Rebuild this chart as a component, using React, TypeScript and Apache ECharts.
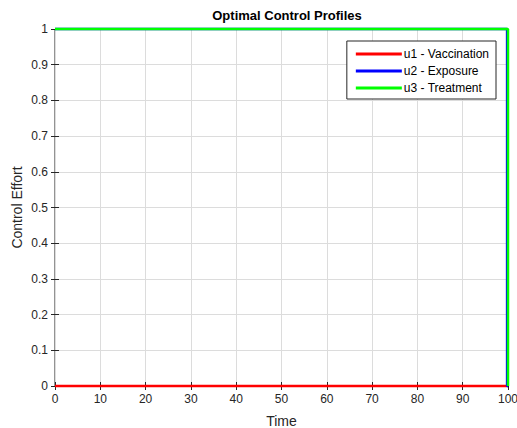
import React, { useEffect, useRef } from "react";
import * as echarts from "echarts";

const timeU1 = [0, 100];
const valuesU1 = [0, 0];
const timeU2 = [0, 99.8, 99.8, 100];
const valuesU2 = [1, 1, 0, 0];
const timeU3 = [0, 100, 100];
const valuesU3 = [1, 1, 0];
const seriesNames = ["u1 - Vaccination", "u2 - Exposure", "u3 - Treatment"];
const seriesColors = ["#ff0000", "#0000ff", "#00ff00"];

const zip = (t: number[], v: number[]) => t.map((x, i) => [x, v[i]]);

export default function App() {
  const ref = useRef<HTMLDivElement>(null);
  useEffect(() => {
    if (!ref.current) return;
    const chart = echarts.init(ref.current, undefined, { renderer: "svg" });
    const font = "Arial, 'Liberation Sans', sans-serif";
    const axisCommon = {
      axisLine: { show: false },
      splitLine: { show: false },
    };
    chart.setOption({
      animation: false,
      backgroundColor: "#ffffff",
      title: {
        text: "Optimal Control Profiles",
        left: 282,
        textAlign: "center",
        top: 4,
        textStyle: { fontSize: 13, fontWeight: "bold", color: "#000", fontFamily: font },
      },
      grid: {
        left: 55,
        right: 9,
        top: 29,
        bottom: 42,
        containLabel: false,
        outerBoundsMode: "none",
        show: true,
        borderColor: "#262626",
        borderWidth: 1,
        backgroundColor: "#fff",
      },
      legend: {
        orient: "vertical",
        right: 21,
        top: 41,
        backgroundColor: "#fff",
        borderColor: "#262626",
        borderWidth: 1,
        padding: [7, 7, 5, 9],
        itemGap: 5,
        itemWidth: 46,
        itemHeight: 3,
        icon: "rect",
        data: seriesNames,
        textStyle: { fontSize: 12, color: "#000", fontFamily: font, padding: [0, 0, 0, -3] },
      },
      xAxis: [
        {
          type: "value",
          min: 0,
          max: 100,
          interval: 10,
          name: "Time",
          nameLocation: "middle",
          nameGap: 28,
          nameMoveOverlap: false,
          nameTextStyle: { fontSize: 14, color: "#262626", fontFamily: font },
          axisLabel: { fontSize: 12, color: "#262626", fontFamily: font, margin: 7 },
          axisTick: { inside: true, length: 4, lineStyle: { color: "#262626" } },
          axisLine: { show: false },
          splitLine: { show: true, lineStyle: { color: "#dcdcdc", width: 1 } },
        },
        {
          type: "value",
          min: 0,
          max: 100,
          interval: 10,
          position: "top",
          axisLabel: { show: false },
          axisTick: { inside: true, length: 4, lineStyle: { color: "#262626" } },
          ...axisCommon,
        },
      ],
      yAxis: [
        {
          type: "value",
          min: 0,
          max: 1,
          interval: 0.1,
          name: "Control Effort",
          nameLocation: "middle",
          nameGap: 31,
          nameMoveOverlap: false,
          nameTextStyle: { fontSize: 14, color: "#262626", fontFamily: font },
          axisLabel: { fontSize: 12, color: "#262626", fontFamily: font, margin: 7 },
          axisTick: { inside: true, length: 4, lineStyle: { color: "#262626" } },
          axisLine: { show: false },
          splitLine: { show: true, lineStyle: { color: "#dcdcdc", width: 1 } },
        },
        {
          type: "value",
          min: 0,
          max: 1,
          interval: 0.1,
          position: "right",
          axisLabel: { show: false },
          axisTick: { inside: true, length: 4, lineStyle: { color: "#262626" } },
          ...axisCommon,
        },
      ],
      series: [
        { name: seriesNames[0], data: zip(timeU1, valuesU1) },
        { name: seriesNames[1], data: zip(timeU2, valuesU2) },
        { name: seriesNames[2], data: zip(timeU3, valuesU3) },
      ].map((s, i) => ({
        ...s,
        type: "line",
        showSymbol: false,
        symbol: "none",
        clip: false,
        color: seriesColors[i],
        lineStyle: { color: seriesColors[i], width: 2.5 },
        z: 3 + i,
      })),
    });
    return () => chart.dispose();
  }, []);
  return <div ref={ref} style={{ width: 517, height: 428, position: "fixed", left: 0, top: 0 }} />;
}
